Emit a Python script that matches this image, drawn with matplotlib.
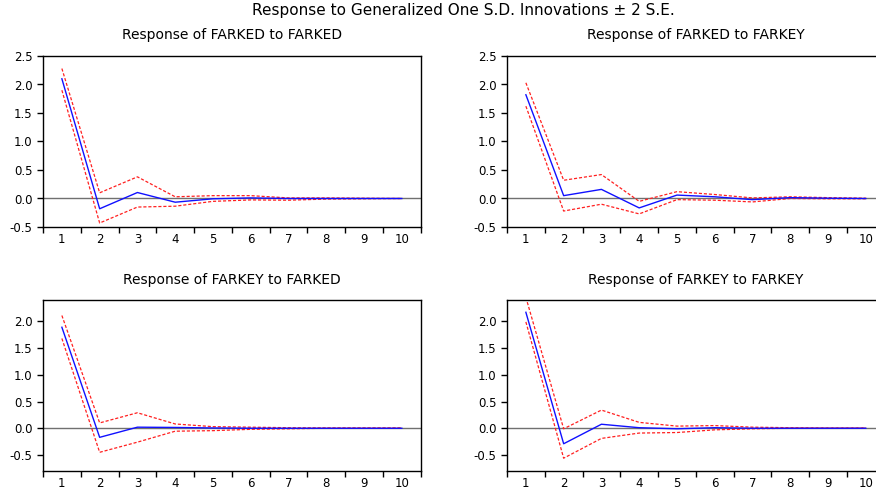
import matplotlib
matplotlib.use("Agg")
import matplotlib.pyplot as plt
from matplotlib.ticker import FixedLocator, FixedFormatter

plt.rcParams['font.family'] = ['DejaVu Sans']

periods = [1, 2, 3, 4, 5, 6, 7, 8, 9, 10]

titles = ["Response of FARKED to FARKED", "Response of FARKED to FARKEY",
          "Response of FARKEY to FARKED", "Response of FARKEY to FARKEY"]

resp_dd = [2.10, -0.18, 0.105, -0.065, -0.005, 0.01, 0.0, 0.0, 0.0, 0.0]
up_dd = [2.28, 0.10, 0.38, 0.03, 0.05, 0.05, 0.01, 0.01, 0.005, 0.0]
lo_dd = [1.90, -0.43, -0.15, -0.135, -0.05, -0.025, -0.03, -0.01, -0.005, 0.0]

resp_dy = [1.82, 0.05, 0.16, -0.165, 0.06, 0.03, -0.02, 0.015, 0.005, 0.0]
up_dy = [2.03, 0.32, 0.42, -0.05, 0.12, 0.07, 0.01, 0.03, 0.015, 0.005]
lo_dy = [1.62, -0.22, -0.10, -0.27, -0.02, -0.03, -0.06, 0.0, -0.005, -0.005]

resp_yd = [1.89, -0.17, 0.02, 0.015, 0.005, 0.0, 0.0, 0.0, 0.0, 0.0]
up_yd = [2.11, 0.10, 0.29, 0.08, 0.03, 0.02, 0.01, 0.005, 0.005, 0.005]
lo_yd = [1.68, -0.45, -0.26, -0.055, -0.045, -0.02, -0.01, 0.0, 0.0, 0.0]

resp_yy = [2.17, -0.29, 0.075, 0.01, -0.01, 0.01, 0.0, 0.0, 0.0, 0.0]
up_yy = [2.45, -0.01, 0.34, 0.11, 0.04, 0.05, 0.02, 0.01, 0.005, 0.005]
lo_yy = [1.99, -0.56, -0.19, -0.09, -0.08, -0.03, -0.01, 0.0, 0.0, 0.0]

yticks_top = [-0.5, 0.0, 0.5, 1.0, 1.5, 2.0, 2.5]
yticks_bot = [-0.5, 0.0, 0.5, 1.0, 1.5, 2.0]

W, H = 876, 490
fig = plt.figure(figsize=(W / 100, H / 100), dpi=100)

def fx(px):
    return px / W

def fy(py):
    return 1 - py / H

panels = [
    (43, 56, 227, 35.5, resp_dd, up_dd, lo_dd, (-0.5, 2.5), yticks_top, titles[0]),
    (507, 56, 227, 35.5, resp_dy, up_dy, lo_dy, (-0.5, 2.5), yticks_top, titles[1]),
    (43, 300, 471, 280, resp_yd, up_yd, lo_yd, (-0.8, 2.4), yticks_bot, titles[2]),
    (507, 300, 471, 280, resp_yy, up_yy, lo_yy, (-0.8, 2.4), yticks_bot, titles[3]),
]

width_px = 377.7
for (left, top, bottom, ty, r, u, l, ylim, yt, title) in panels:
    ax = fig.add_axes([fx(left), fy(bottom), width_px / W, (bottom - top) / H])
    ax.axhline(0, color='#707070', lw=1.0, zorder=1)
    ax.plot(periods, u, color='#ff2020', lw=0.9, ls=(0, (2.5, 1.5)), zorder=2)
    ax.plot(periods, l, color='#ff2020', lw=0.9, ls=(0, (2.5, 1.5)), zorder=2)
    ax.plot(periods, r, color='#1010ff', lw=1.0, zorder=3)
    ax.set_xlim(0.5, 10.5)
    ax.set_ylim(*ylim)
    ax.xaxis.set_major_locator(FixedLocator(periods))
    ax.xaxis.set_minor_locator(FixedLocator([p + 0.5 for p in [0] + periods]))
    ax.xaxis.set_major_formatter(FixedFormatter([str(p) for p in periods]))
    ax.tick_params(axis='x', which='major', length=0, pad=4, labelsize=8.5)
    ax.tick_params(axis='x', which='minor', length=4, width=1, direction='out')
    ax.set_yticks(yt)
    ax.set_yticklabels([f"{v:.1f}" for v in yt])
    ax.tick_params(axis='y', length=4, width=1, direction='out', pad=3.5, labelsize=8.5)
    for s in ax.spines.values():
        s.set_linewidth(1.0)
        s.set_color('black')
    cx = left + width_px / 2
    fig.text(fx(cx), fy(ty), title, ha='center', va='center', fontsize=10)

fig.text(fx(463), fy(10.5), "Response to Generalized One S.D. Innovations \u00b1 2 S.E.",
         ha='center', va='center', fontsize=11)

fig.savefig("out.png", dpi=100)
